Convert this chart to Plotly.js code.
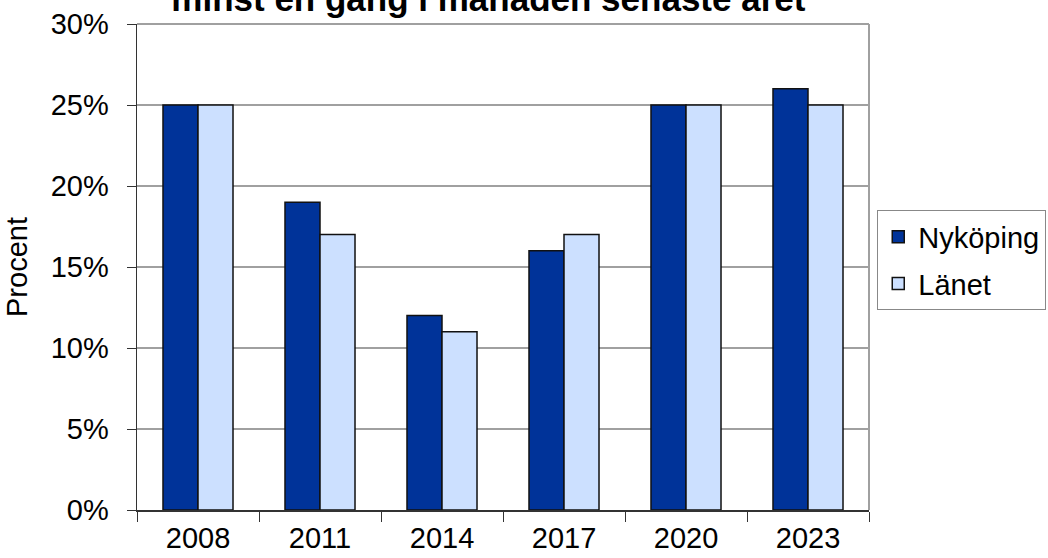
<!DOCTYPE html>
<html>
<head>
<meta charset="utf-8">
<script src="https://cdn.plot.ly/plotly-3.0.1.min.js"></script>
<style>html,body{margin:0;padding:0;background:#fff;}#chart{width:1048px;height:558px;}</style>
</head>
<body>
<div id="chart"></div>
<script>
const years = ["2008", "2011", "2014", "2017", "2020", "2023"];
const nykoping = [25, 19, 12, 16, 25, 26];
const lanet = [25, 17, 11, 17, 25, 25];
const seriesNames = ["Nyköping", "Länet"];
const titleText = "minst en gång i månaden senaste året";
const yTitle = "Procent";

const FONT = "Liberation Sans, Arial, sans-serif";

const traces = [
  {
    type: "bar", name: seriesNames[0], x: years, y: nykoping,
    legendgroup: "a",
    marker: {color: "#003399", line: {color: "#111111", width: 1.5}},
    hoverinfo: "x+y"
  },
  {
    type: "bar", name: seriesNames[1], x: years, y: lanet,
    legendgroup: "b",
    marker: {color: "#cce0ff", line: {color: "#111111", width: 1.5}},
    hoverinfo: "x+y"
  }
];

const layout = {
  width: 1048, height: 558,
  margin: {l: 137, r: 179, t: 24, b: 48, pad: 0, autoexpand: false},
  paper_bgcolor: "#ffffff", plot_bgcolor: "#ffffff",
  font: {family: FONT, size: 29, color: "#000000"},
  barmode: "group",
  bargap: 0.426, bargroupgap: 0,
  showlegend: true,
  title: {
    text: "<b>" + titleText + "</b>",
    font: {family: FONT, size: 35, color: "#000000"},
    xref: "paper", x: 0.48, xanchor: "center",
    yref: "container", y: 0.98, yanchor: "bottom"
  },
  xaxis: {
    type: "category",
    showline: true, linecolor: "#333333", linewidth: 1.5,
    ticks: "outside", tickson: "boundaries", ticklen: 10, tickcolor: "#333333", tickwidth: 1,
    showgrid: false, zeroline: false,
    tickfont: {family: FONT, size: 29, color: "#000000"},
    ticklabelstandoff: 2,
    automargin: false,
    fixedrange: true
  },
  yaxis: {
    range: [0, 30], dtick: 5, ticksuffix: "%",
    showline: true, linecolor: "#333333", linewidth: 1.5,
    ticks: "outside", ticklen: 9, tickcolor: "#333333", tickwidth: 1,
    showgrid: true, gridcolor: "#a0a0a0", gridwidth: 1.5,
    zeroline: false,
    tickfont: {family: FONT, size: 29, color: "#000000"},
    ticklabelstandoff: 12,
    title: {text: yTitle, font: {family: FONT, size: 29, color: "#000000"}, standoff: 14},
    automargin: false,
    fixedrange: true
  },
  legend: {
    x: 1.011, xanchor: "left", xref: "paper",
    y: 0.617, yanchor: "top", yref: "paper",
    bordercolor: "#888888", borderwidth: 1.2,
    bgcolor: "#ffffff",
    font: {family: FONT, size: 29, color: "#000000"},
    traceorder: "grouped", tracegroupgap: 6,
    itemwidth: 30
  },
  shapes: [
    {type: "line", xref: "paper", yref: "paper", x0: 0, x1: 1, y0: 1, y1: 1, line: {color: "#a0a0a0", width: 2}, layer: "above"},
    {type: "line", xref: "paper", yref: "paper", x0: 1, x1: 1, y0: 0, y1: 1, line: {color: "#a0a0a0", width: 2}, layer: "above"}
  ]
};

Plotly.newPlot("chart", traces, layout, {displayModeBar: false, staticPlot: true});
</script>
</body>
</html>
